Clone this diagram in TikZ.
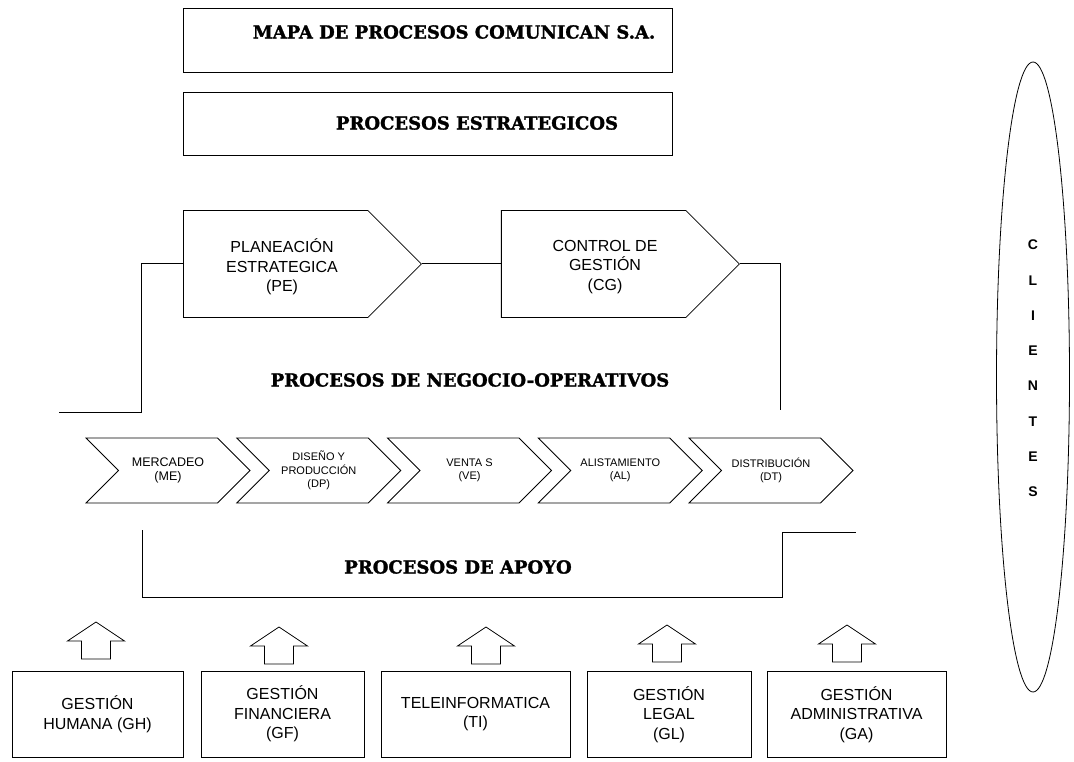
\documentclass[tikz,border=0pt]{standalone}
\usepackage{fontspec}
\setmainfont{Liberation Sans}
\newfontfamily\headfont[BoldFeatures={FakeBold=1.5}]{DejaVu Serif}
\usetikzlibrary{positioning,shapes.geometric,shapes.symbols}

\tikzset{
  base/.style={draw=black, line width=0.8pt, inner sep=0pt},
  headbox/.style={base, minimum width=489pt, minimum height=64pt},
  headtext/.style={font=\headfont\bfseries\fontsize{18}{21}\selectfont},
  stratproc/.style={base, signal, signal to=east, signal pointer angle=90,
    minimum width=238pt, minimum height=107pt},
  procname/.style={align=center, font=\fontsize{16}{19.5}\selectfont},
  opproc/.style={base, signal, signal from=west, signal to=east, signal pointer angle=90,
    minimum width=164pt, minimum height=65pt, align=center,
    font=\fontsize{11}{13.5}\selectfont},
  supproc/.style={base, minimum height=86pt, align=center,
    font=\fontsize{16}{19.5}\selectfont},
  uparr/.pic={\draw[line width=0.8pt] (0,0) -- (28.5,19) -- (14.5,19) -- (14.5,37)
    -- (-14.5,37) -- (-14.5,19) -- (-28.5,19) -- cycle;},
  link/.style={line width=1pt},
}

\begin{document}
\begin{tikzpicture}[x=1pt, y=-1pt]
		\useasboundingbox (0,0) rectangle (1074,762);

		% Headers
		\node[headbox] (boxMapa) at (427.5,40) {};
		\node[headtext] (tMapa) at (454,32) {MAPA DE PROCESOS COMUNICAN S.A.};
		\node[headbox, minimum height=63pt] (boxEst) at (427.5,123.5) {};
		\node[headtext] (tEst) at (477,123) {PROCESOS ESTRATEGICOS};

		% Strategic processes
		\node[stratproc, anchor=west] (PE) at (183,264) {};
		\node[stratproc, right=79pt of PE] (CG) {};
		\node[procname] (tPE) at (282,267) {PLANEACIÓN\\ESTRATEGICA\\(PE)};
		\node[procname] (tCG) at (605,267) {CONTROL DE\\GESTIÓN\\(CG)};

		\coordinate (negL) at (59,412);
		\coordinate (negR) at (780,410);
		\draw[link] (PE.east) -- (CG.west);
		\draw[link] (PE.west) -- ++(-42,0) |- (negL);
		\draw[link] (CG.east) -| (negR);

		\node[headtext] (tNeg) at (470,380) {PROCESOS DE NEGOCIO-OPERATIVOS};

		% Business processes
		\begin{scope}[on grid, node distance=150.75pt]
			\node[opproc, font=\fontsize{12.5}{14}\selectfont] (ME) at (168,470.5) {MERCADEO\\(ME)};
			\node[opproc, right=of ME] (DP) {DISEÑO Y\\PRODUCCIÓN\\(DP)};
			\node[opproc, right=of DP] (VE) {VENTA S\\(VE)};
			\node[opproc, right=of VE] (AL) {ALISTAMIENTO\\(AL)};
			\node[opproc, right=of AL] (DT) {DISTRIBUCIÓN\\(DT)};
		\end{scope}

		% Support processes
		\coordinate (apL) at (142,530);
		\coordinate (apR) at (856,532);
		\draw[link] (apL) |- (782,597) |- (apR);
		\node[headtext] (tApo) at (458,567) {PROCESOS DE APOYO};

		\node[supproc, minimum width=171pt] (GH) at (97.5,714) {GESTIÓN\\HUMANA (GH)};
		\node[supproc, minimum width=163pt] (GF) at (282.5,714) {GESTIÓN\\FINANCIERA\\(GF)};
		\node[supproc, minimum width=189pt] (TI) at (475.5,714) {TELEINFORMATICA\\(TI)};
		\node[supproc, minimum width=164pt] (GL) at (669,714.5) {GESTIÓN\\LEGAL\\(GL)};
		\node[supproc, minimum width=179pt] (GA) at (856.5,714.5) {GESTIÓN\\ADMINISTRATIVA\\(GA)};

		\pic (aGH) at (96,622) {uparr};
		\pic (aGF) at (279,627) {uparr};
		\pic (aTI) at (486,627) {uparr};
		\pic (aGL) at (667,625) {uparr};
		\pic (aGA) at (847,625) {uparr};

		% Clients
		\node[base, ellipse, minimum width=73pt, minimum height=630pt] (CLI) at (1033,377) {};
		\node[align=center, font=\bfseries\fontsize{14}{35.3}\selectfont] (tCli)
			at ([yshift=8.5pt]CLI.center) {C\\L\\I\\E\\N\\T\\E\\S};
	\end{tikzpicture}
\end{document}
